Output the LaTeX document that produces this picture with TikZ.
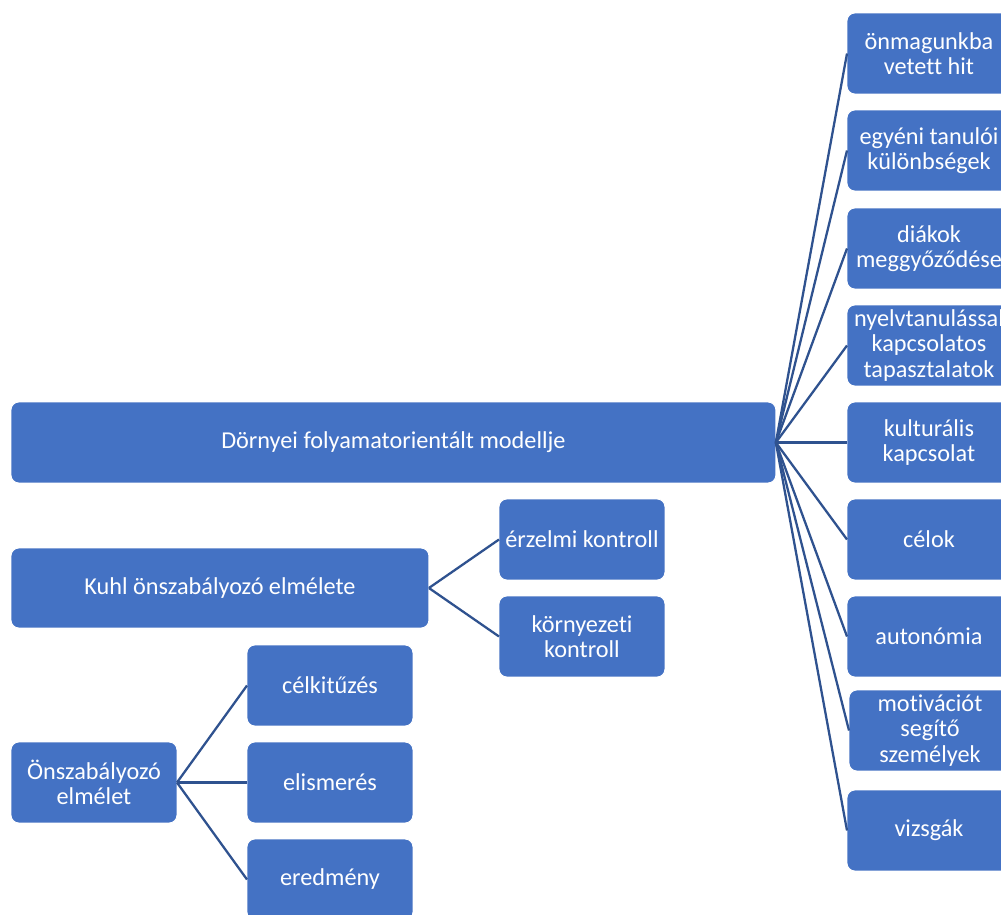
\documentclass[tikz,border=0pt]{standalone}
\usepackage{fontspec}
\setmainfont{Carlito}[Ligatures=CommonOff]
\usetikzlibrary{positioning}
\definecolor{dobozkek}{RGB}{68,114,196}
\definecolor{vonalkek}{RGB}{47,82,143}
\tikzset{
    %Define style for boxes
    doboz/.style={
           rectangle,
           rounded corners=4.5pt,
           draw=white, line width=0.5pt,
           fill=dobozkek,
           text=white,
           align=center,
           anchor=north west,
           inner sep=2pt, outer sep=0pt,
           minimum width=3.28cm,
           minimum height=1.62cm,
           font=\fontsize{13.8}{14.4}\selectfont},
    % Define connector style
    vonal/.style={
           draw=vonalkek,
           line width=1.3pt},
}
\begin{document}
\begin{tikzpicture}[x=0.02cm,y=-0.02cm]
\useasboundingbox (0,0) rectangle (1001,914);

% Fo doboz
\node[doboz, minimum width=15.3cm] (dornyei) at (11,402) {Dörnyei folyamatorientált modellje};

% Jobb oszlop
\node[doboz] (hit) at (847,13) {önmagunkba\\vetett hit};
\node[doboz] (egyeni) at (847,110) {egyéni tanulói\\különbségek};
\node[doboz] (diakok) at (847,208) {diákok\\meggyőződése};
\node[doboz, text width=3.1cm] (nyelv) at (847,305) {nyelvtanulással\\kapcsolatos\\tapasztalatok};
\node[doboz] (kult) at (847,402) {kulturális\\kapcsolat};
\node[doboz] (celok) at (847,499) {célok};
\node[doboz] (auton) at (847,596) {autonómia};
\node[doboz, minimum width=3.24cm] (motiv) at (849,690) {motivációt\\segítő\\személyek};
\node[doboz] (vizsga) at (847,790) {vizsgák};

\foreach \cel in {hit,egyeni,diakok,nyelv,kult,celok,auton,motiv,vizsga}
    \draw[vonal] (dornyei.east) -- (\cel.west);

% Kuhl
\node[doboz, minimum width=8.36cm, minimum height=1.6cm] (kuhl) at (11,548) {Kuhl önszabályozó elmélete};
\node[doboz, minimum width=3.32cm] (erzelmi) at (499,499) {érzelmi kontroll};
\node[doboz, minimum width=3.32cm] (kornyezeti) at (499,596) {környezeti\\kontroll};
\draw[vonal] (kuhl.east) -- (erzelmi.west);
\draw[vonal] (kuhl.east) -- (kornyezeti.west);

% Onszabalyozo elmelet
\node[doboz, minimum width=3.32cm] (onszab) at (11,742) {Önszabályozó\\elmélet};
\node[doboz, minimum width=3.32cm] (celkit) at (247,645) {célkitűzés};
\node[doboz, minimum width=3.32cm] (elism) at (247,742) {elismerés};
\node[doboz, minimum width=3.32cm] (eredm) at (247,839) {eredmény};
\draw[vonal] (onszab.east) -- (celkit.west);
\draw[vonal] (onszab.east) -- (elism.west);
\draw[vonal] (onszab.east) -- (eredm.west);
\end{tikzpicture}
\end{document}
